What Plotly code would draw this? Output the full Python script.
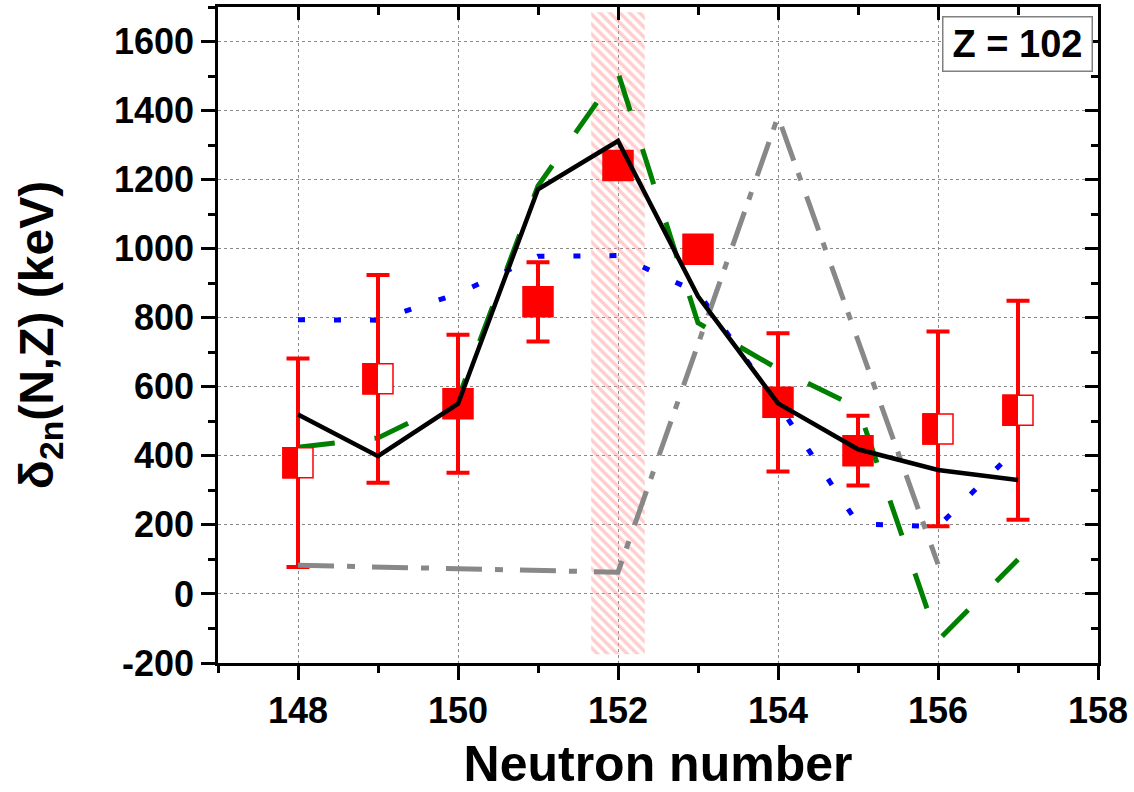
import plotly.graph_objects as go

# ---------------- data ----------------
N = [148, 149, 150, 151, 152, 153, 154, 155, 156, 157]
exp_val = [380, 623, 551, 846, 1241, 998, 555, 415, 478, 532]
exp_err = [302, 301, 200, 115, 0, 0, 200, 101, 282, 317]
half_filled = [True, True, False, False, False, False, False, False, True, True]

theory_black = [520, 399, 551, 1172, 1312, 862, 552, 419, 359, 330]
theory_green = [425, 452, 565, 1182, 1510, 785, 652, 540, -135, 100]
theory_blue = [794, 793, 870, 978, 980, 873, 550, 203, 195, 425]
N_gray = [148, 149, 150, 151, 152, 153, 154, 155, 156]
theory_gray = [83, 78, 73, 68, 63, 723, 1383, 734, 86]

band_center = 152
band_width = 0.67
band_low = -175
band_high = 1685

x_ticks = [148, 150, 152, 154, 156, 158]
y_ticks = [-200, 0, 200, 400, 600, 800, 1000, 1200, 1400, 1600]
y_ticklabels = [str(v) for v in y_ticks]

FONT = "Liberation Sans, Arial, sans-serif"
RED = "#FF0000"

fig = go.Figure()

# hatched band around N = 152
fig.add_trace(go.Bar(
    x=[band_center], y=[band_high - band_low], base=[band_low], width=[band_width],
    marker=dict(color="rgba(0,0,0,0)", line=dict(width=0),
                pattern=dict(shape="\\", fgcolor="#FF9C9C", bgcolor="rgba(0,0,0,0)",
                             size=7, solidity=0.5)),
    showlegend=False, hoverinfo="skip"))

# blue dotted
fig.add_trace(go.Scatter(x=N, y=theory_blue, mode="lines",
                         line=dict(color="#0000FF", width=5, dash="7px,29px"),
                         showlegend=False))
# green dashed
fig.add_trace(go.Scatter(x=N, y=theory_green, mode="lines",
                         line=dict(color="#008000", width=5, dash="37px,40px"),
                         showlegend=False))

# experimental points
fig.add_trace(go.Scatter(
    x=N, y=exp_val, mode="markers",
    marker=dict(symbol="square", size=30,
                color=["#FFFFFF" if h else RED for h in half_filled],
                line=dict(color=RED, width=1.5)),
    error_y=dict(type="data", array=exp_err, color=RED, thickness=4, width=11.5),
    showlegend=False))

# gray dash-dot
fig.add_trace(go.Scatter(x=N_gray, y=theory_gray, mode="lines",
                         line=dict(color="#888888", width=5, dash="36px,13px,8px,17px"),
                         showlegend=False))
# black solid
fig.add_trace(go.Scatter(x=N, y=theory_black, mode="lines",
                         line=dict(color="#000000", width=4.5),
                         showlegend=False))

# dummy trace to activate mirrored (inside-tick) axes
fig.add_trace(go.Scatter(x=[None], y=[None], xaxis="x2", yaxis="y2",
                         showlegend=False, hoverinfo="skip"))

# left-half fill of half-filled squares
for n, v, h in zip(N, exp_val, half_filled):
    if h:
        fig.add_shape(type="rect", xref="x", yref="y",
                      xsizemode="pixel", ysizemode="pixel",
                      xanchor=n, yanchor=v, x0=-15.75, x1=0, y0=-15.75, y1=15.75,
                      fillcolor=RED, line=dict(width=0), layer="above")

axis_common = dict(
    showline=True, linecolor="black", linewidth=2.5,
    ticks="outside", ticklen=14, tickwidth=2.5, tickcolor="black",
    zeroline=False, automargin=False,
    tickfont=dict(family=FONT, size=36, color="black", weight="bold"),
)

fig.update_layout(
    width=1134, height=792,
    margin=dict(l=218, r=36, t=7, b=129),
    paper_bgcolor="white", plot_bgcolor="white",
    barmode="overlay",
    xaxis=dict(
        range=[147, 158], tickvals=x_ticks,
        showgrid=True, gridcolor="#8a8a8a", gridwidth=1, griddash="dot",
        minor=dict(dtick=1, tick0=147, ticklen=7, tickwidth=2.5, tickcolor="black",
                   ticks="outside", showgrid=False),
        title=dict(text="Neutron number", standoff=20,
                   font=dict(family=FONT, size=50, color="black", weight="bold")),
        **axis_common),
    yaxis=dict(
        range=[-200, 1700], tickvals=y_ticks, ticktext=y_ticklabels,
        showgrid=True, gridcolor="#8a8a8a", gridwidth=1, griddash="dot",
        minor=dict(dtick=100, tick0=0, ticklen=7, tickwidth=2.5, tickcolor="black",
                   ticks="outside", showgrid=False),
        title=dict(text="δ<sub>2n</sub>(N,Z) (keV)", standoff=46,
                   font=dict(family=FONT, size=48, color="black", weight="bold")),
        **axis_common),
    xaxis2=dict(
        overlaying="x", side="top", anchor="y2", range=[147, 158], tickvals=x_ticks,
        showline=True, linecolor="black", linewidth=2.5,
        ticks="inside", ticklen=13, tickwidth=2.5, tickcolor="black",
        showticklabels=False, showgrid=False, zeroline=False,
        minor=dict(dtick=1, tick0=147, ticklen=8, tickwidth=2.5, tickcolor="black",
                   ticks="inside", showgrid=False)),
    yaxis2=dict(
        overlaying="y", side="right", anchor="x2", range=[-200, 1700], tickvals=y_ticks,
        showline=True, linecolor="black", linewidth=2.5,
        ticks="inside", ticklen=13, tickwidth=2.5, tickcolor="black",
        showticklabels=False, showgrid=False, zeroline=False,
        minor=dict(dtick=100, tick0=0, ticklen=7, tickwidth=2.5, tickcolor="black",
                   ticks="inside", showgrid=False)),
    annotations=[dict(
        text="Z = 102", xref="paper", yref="paper", x=0.994, y=0.9865,
        xanchor="right", yanchor="top", showarrow=False,
        font=dict(family=FONT, size=38, color="black", weight="bold"),
        bordercolor="#808080", borderwidth=1.5, borderpad=3, bgcolor="white",
        width=142, height=47)],
)

fig.write_html("out.html",
               config={"displayModeBar": False},
               post_script="document.body.style.margin='0px';"
                           "document.body.style.overflow='hidden';")
